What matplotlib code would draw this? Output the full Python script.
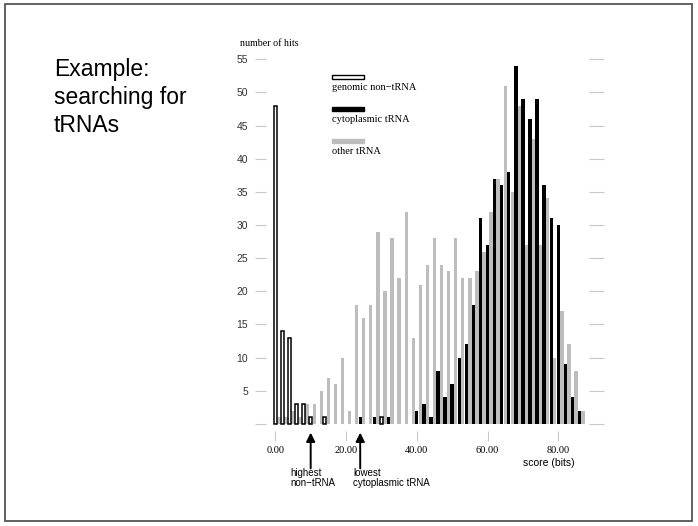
import numpy as np
import matplotlib.pyplot as plt
from matplotlib.patches import Rectangle

# score bins (bits), bin width 2
bin_scores = np.arange(0, 88, 2)

genomic_non_trna = [48, 14, 13, 3, 3, 1, 0, 1, 0, 0,
                    0, 0, 0, 0, 0, 1, 0, 0, 0, 0,
                    0, 0, 0, 0, 0, 0, 0, 0, 0, 0,
                    0, 0, 0, 0, 0, 0, 0, 0, 0, 0,
                    0, 0, 0, 0]
cytoplasmic_trna = [0, 0, 0, 0, 0, 0, 0, 0, 0, 0,
                    0, 0, 1, 0, 1, 0, 1, 0, 0, 0,
                    2, 3, 1, 8, 4, 6, 10, 12, 18, 31,
                    27, 37, 36, 38, 54, 49, 46, 49, 36, 31,
                    30, 9, 4, 2]
other_trna = [1, 1, 2, 1, 3, 3, 5, 7, 6, 10,
              2, 18, 16, 18, 29, 20, 28, 22, 32, 13,
              21, 24, 28, 24, 23, 28, 22, 22, 23, 26,
              32, 37, 51, 35, 48, 27, 43, 27, 34, 10,
              17, 12, 8, 2]

y_ticks = [0, 5, 10, 15, 20, 25, 30, 35, 40, 45, 50, 55]
x_ticks = [0, 20, 40, 60, 80]
x_tick_labels = ['0.00', '20.00', '40.00', '60.00', '80.00']

SERIF = 'Liberation Serif'
SANS = 'Liberation Sans'
GRAY = '#bdbdbd'
TICK = '#c8c8c8'

W, H = 698, 526
fig = plt.figure(figsize=(W / 100, H / 100), dpi=100)

# slide frame
fig.patches.append(Rectangle((5 / W, 5 / H), 687 / W, 517 / H, transform=fig.transFigure,
                             fill=False, edgecolor='#555555', linewidth=1.3))

fig.text(54 / W, 1 - 58 / H, 'Example:\nsearching for\ntRNAs', family=SANS, fontsize=16.5,
         va='top', ha='left', linespacing=1.28)

ax = fig.add_axes([266 / W, 95 / H, 338 / W, 391 / H])
ax.set_xlim(-2.63, 92.92)
ax.set_ylim(-1.06, 57.9)

g = np.array(genomic_non_trna)
c = np.array(cytoplasmic_trna)
o = np.array(other_trna)

ax.bar(bin_scores + 1, o, width=0.95, color=GRAY, linewidth=0)
mc = c > 0
ax.bar(bin_scores[mc], c[mc], width=0.95, color='black', linewidth=0)
mg = g > 0
ax.bar(bin_scores[mg], g[mg], width=0.8, facecolor='white', edgecolor='black', linewidth=1.1)

for s in ax.spines.values():
    s.set_visible(False)

ax.set_yticks(y_ticks)
ax.set_yticklabels([''] + [str(v) for v in y_ticks[1:]])
ax.tick_params(axis='y', left=True, right=True, direction='out', length=8, width=0.8,
               color=TICK, pad=5, labelsize=7.5)
for t in ax.yaxis.get_major_ticks():
    t.tick2line.set_marker(0)  # right-side tick pointing inward
    t.tick2line.set_markersize(11)
for lab in ax.get_yticklabels():
    lab.set_family(SANS)
    lab.set_color('#333333')

ax.set_xticks(x_ticks)
ax.set_xticklabels(x_tick_labels)
ax.tick_params(axis='x', direction='out', length=7, width=0.8, color=TICK, pad=4, labelsize=7.5)
for lab in ax.get_xticklabels():
    lab.set_family(SERIF)

fig.text(240 / W, 1 - 44 / H, 'number of hits', family=SERIF, fontsize=7.2, va='center')

# legend drawn by hand
legend_items = [('genomic non\u2212tRNA', 'white', 'black'),
                ('cytoplasmic tRNA', 'black', 'black'),
                ('other tRNA', GRAY, GRAY)]
for i, (name, fc, ec) in enumerate(legend_items):
    ytop = 75 + i * 32
    fig.patches.append(Rectangle((332 / W, 1 - (ytop + 4) / H), 32 / W, 4 / H,
                                 transform=fig.transFigure, facecolor=fc, edgecolor=ec,
                                 linewidth=1.0))
    fig.text(332 / W, 1 - (ytop + 13) / H, name, family=SERIF, fontsize=7.5, va='center')

# arrows under the axis
arrow_kw = dict(arrowstyle='-|>', color='black', lw=1.4, mutation_scale=13, shrinkA=0, shrinkB=0)
ax.annotate('', xy=(10, -1.3), xytext=(10, -6.7), arrowprops=arrow_kw, annotation_clip=False)
ax.annotate('', xy=(24, -1.3), xytext=(24, -6.7), arrowprops=arrow_kw, annotation_clip=False)

fig.text(290 / W, 1 - 468 / H, 'highest\nnon\u2212tRNA', family=SANS, fontsize=7,
         va='top', linespacing=1.0)
fig.text(353 / W, 1 - 468 / H, 'lowest\ncytoplasmic tRNA', family=SANS, fontsize=7,
         va='top', linespacing=1.0)
fig.text(575 / W, 1 - 463 / H, 'score (bits)', family=SANS, fontsize=7.5, va='center', ha='right')

fig.savefig('out.png', dpi=100)
